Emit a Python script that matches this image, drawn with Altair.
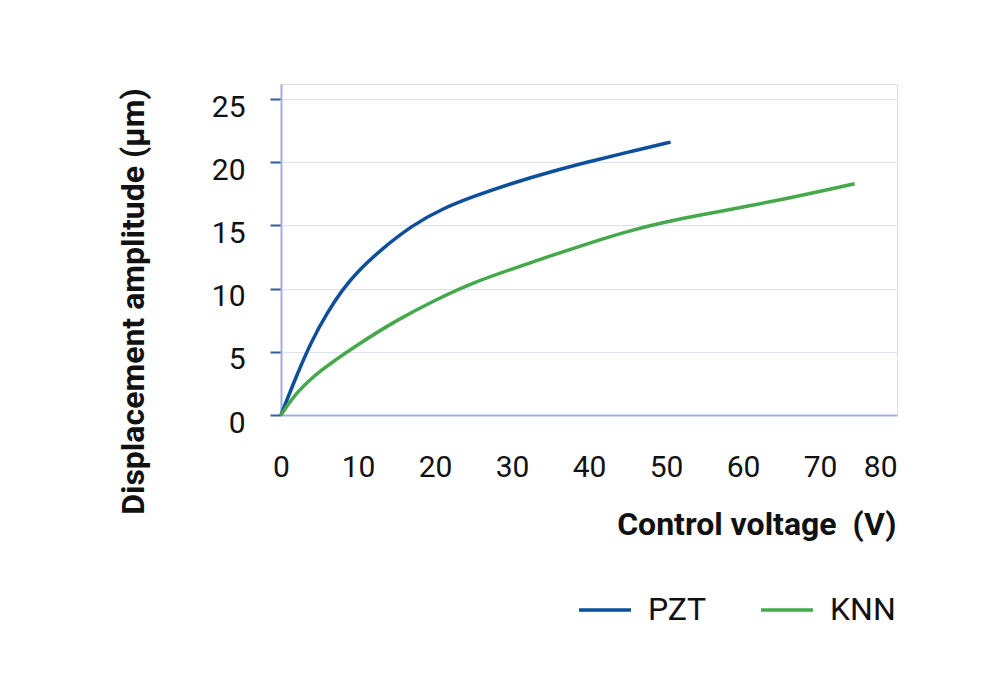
import altair as alt
import pandas as pd

pzt_v = [0, 2, 4, 6, 8, 10, 13, 17, 21, 25, 30, 35, 40, 45, 50.6]
pzt_d = [0, 3.1, 5.9, 8.1, 9.95, 11.4, 13.1, 15.0, 16.35, 17.3, 18.35, 19.25, 20.05, 20.8, 21.6]

knn_v = [0, 2, 5, 10, 15, 20, 25, 30, 35, 40, 45, 50, 55, 60, 65, 70, 74.5]
knn_d = [0, 1.8, 3.5, 5.6, 7.5, 9.1, 10.5, 11.55, 12.6, 13.6, 14.55, 15.3, 15.9, 16.45, 17.05, 17.7, 18.3]

series = ["PZT", "KNN"]
colors = ["#0d4f9a", "#45a94c"]
x_ticks = [0, 10, 20, 30, 40, 50, 60, 70, 80]
y_ticks = [0, 5, 10, 15, 20, 25]

df = pd.concat([
    pd.DataFrame({"series": "PZT", "v": pzt_v, "d": pzt_d}),
    pd.DataFrame({"series": "KNN", "v": knn_v, "d": knn_d}),
])

FONT = "Roboto"

chart = alt.Chart(df).mark_line(strokeWidth=3.5, interpolate="basis").encode(
    x=alt.X("v:Q",
            scale=alt.Scale(domain=[0, 80], nice=False, zero=False),
            axis=alt.Axis(values=x_ticks, title="Control voltage\u00a0 (V)",
                          grid=False, ticks=False,
                          domainColor="#a3acdf", domainWidth=2,
                          labelFontSize=30, labelFont=FONT, labelColor="#111111",
                          labelPadding=52, labelBaseline="middle",
                          labelAlign=alt.expr("datum.value == 80 ? 'right' : 'center'"),
                          titleFontSize=32, titleFont=FONT, titleFontWeight="bold",
                          titleColor="#111111",
                          titleAnchor="end", titleAlign="right", titleBaseline="middle",
                          titleX=615, titleY=109)),
    y=alt.Y("d:Q",
            scale=alt.Scale(domain=[0, 26.2], nice=False),
            axis=alt.Axis(values=y_ticks, title="Displacement amplitude (µm)",
                          grid=True, gridColor="#dfe2f2", gridWidth=1.2,
                          ticks=True, tickSize=11, tickColor="#2f5f9f", tickWidth=2,
                          domainColor="#a3acdf", domainWidth=2,
                          labelFontSize=30, labelFont=FONT, labelColor="#111111",
                          labelPadding=25, labelOffset=8,
                          titleFontSize=32, titleFont=FONT, titleFontWeight="bold",
                          titleColor="#111111",
                          titleAngle=270, titleAlign="center", titleBaseline="middle",
                          titleX=-148, titleY=217)),
    color=alt.Color("series:N",
                    scale=alt.Scale(domain=series, range=colors),
                    legend=alt.Legend(title=None, orient="none", direction="horizontal",
                                      legendX=296, legendY=498, padding=0,
                                      symbolType="stroke", symbolSize=2704,
                                      symbolStrokeWidth=3.5,
                                      labelFontSize=32, labelFont=FONT, labelColor="#111111",
                                      labelOffset=15, columnPadding=47)),
).properties(
    width=616, height=331,
    autosize=alt.AutoSizeParams(type="none"),
    padding={"left": 273, "top": 76, "right": 95, "bottom": 277},
).configure_view(stroke=None).configure(background="white")

chart.save("out.html", embed_options={"renderer": "svg", "actions": False})
